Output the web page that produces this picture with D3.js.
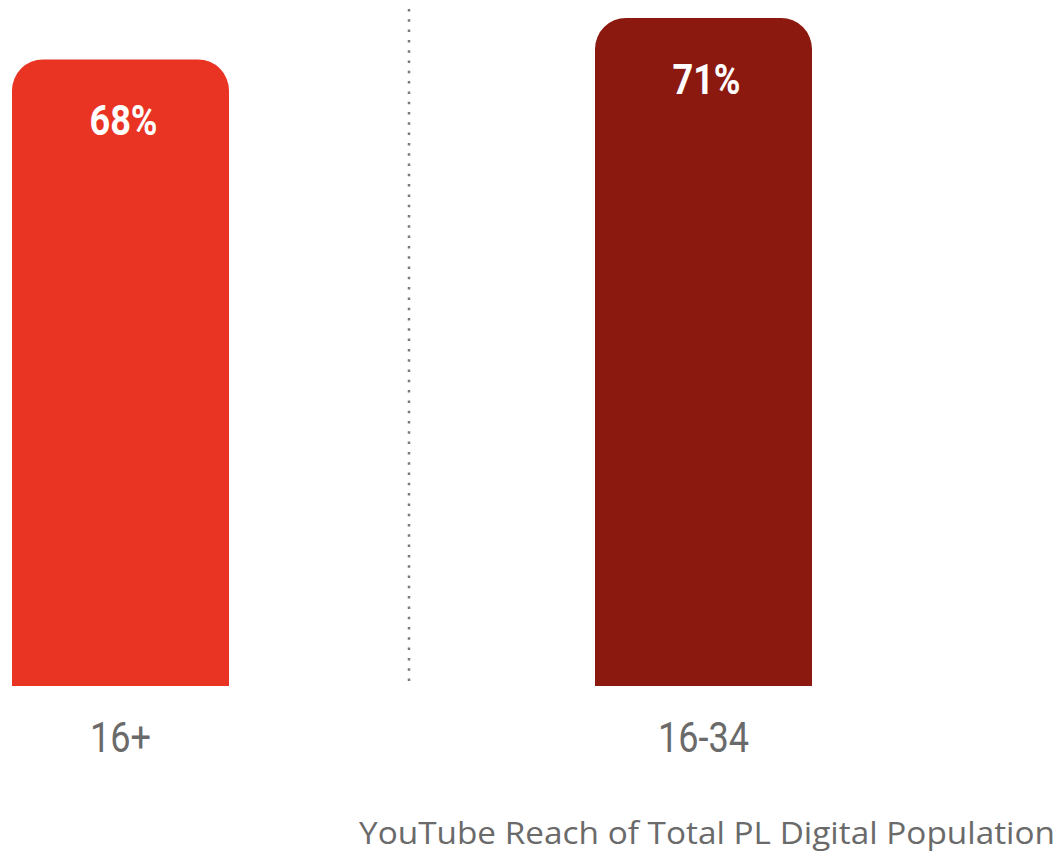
<!DOCTYPE html>
<html>
<head>
<meta charset="utf-8">
<script src="https://cdn.jsdelivr.net/npm/d3@7"></script>
<style>
  html, body { margin: 0; padding: 0; background: #fff; }
  svg { display: block; }
</style>
</head>
<body>
<svg id="chart" width="1064" height="858"></svg>
<script>
const categories = ["16+", "16-34"];
const values = [68, 71];
const valueLabels = ["68%", "71%"];
const colors = ["#E93424", "#8C1910"];
const caption = "YouTube Reach of Total PL Digital Population";

const svg = d3.select("#chart");

const x = d3.scaleBand().domain(categories).range([12, 812]).paddingInner(0.6278).paddingOuter(0);
const y = d3.scaleLinear().domain([22.7, 71]).range([686, 18]);

const r = 31;
function topRounded(x0, y0, w, y1, rad) {
  const p = d3.path();
  p.moveTo(x0, y1);
  p.lineTo(x0, y0 + rad);
  p.arcTo(x0, y0, x0 + rad, y0, rad);
  p.lineTo(x0 + w - rad, y0);
  p.arcTo(x0 + w, y0, x0 + w, y0 + rad, rad);
  p.lineTo(x0 + w, y1);
  p.closePath();
  return p.toString();
}

const data = categories.map((c, i) => ({ c, v: values[i], label: valueLabels[i], color: colors[i] }));

// divider
svg.append("line")
  .attr("x1", 409).attr("x2", 409)
  .attr("y1", 9).attr("y2", 682)
  .attr("stroke", "#7a7a7a")
  .attr("stroke-width", 2.5)
  .attr("stroke-dasharray", "2.5 7.8");

svg.selectAll("path.bar").data(data).join("path")
  .attr("class", "bar")
  .attr("d", d => topRounded(x(d.c), y(d.v), x.bandwidth(), y.range()[0], r))
  .attr("fill", d => d.color);

svg.selectAll("text.val").data(data).join("text")
  .attr("class", "val")
  .attr("transform", d => `translate(${x(d.c) + x.bandwidth() / 2 + 3},${y(d.v) + 76}) scale(0.86,1)`)
  .attr("text-anchor", "middle")
  .attr("font-family", "Roboto, 'Open Sans', sans-serif")
  .attr("font-weight", "700")
  .attr("font-size", 42)
  .attr("fill", "#fff")
  .text(d => d.label);

svg.selectAll("text.cat").data(data).join("text")
  .attr("class", "cat")
  .attr("transform", d => `translate(${x(d.c) + x.bandwidth() / 2},752) scale(0.86,1)`)
  .attr("text-anchor", "middle")
  .attr("font-family", "Roboto, 'Open Sans', sans-serif")
  .attr("font-size", 42)
  .attr("fill", "#6a6a6a")
  .text(d => d.c);

svg.append("text")
  .attr("x", 1055).attr("y", 844)
  .attr("text-anchor", "end")
  .attr("font-family", "'Open Sans', Roboto, sans-serif")
  .attr("font-size", 31)
  .attr("fill", "#6a6a6a")
  .attr("textLength", 696)
  .attr("lengthAdjust", "spacingAndGlyphs")
  .text(caption);
</script>
</body>
</html>
